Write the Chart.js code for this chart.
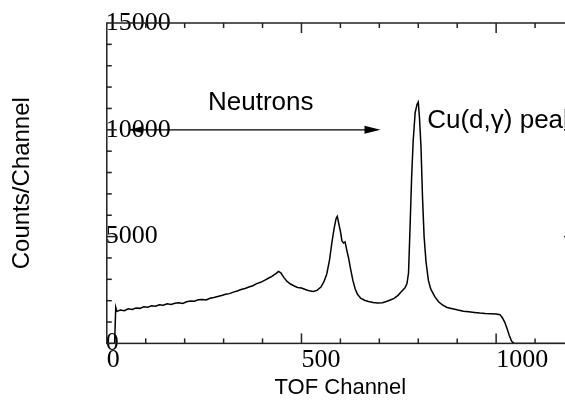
<!DOCTYPE html>
<html>
<head>
<meta charset="utf-8">
<script src="https://cdn.jsdelivr.net/npm/chart.js@4.4.1/dist/chart.umd.min.js"></script>
<style>
html, body { margin: 0; padding: 0; background: #fff; overflow: hidden; }
#wrap { width: 565px; height: 401px; overflow: hidden; }
</style>
</head>
<body>
<div id="wrap"><canvas id="tof" width="575" height="401"></canvas></div>
<script>
// TOF spectrum
var channels = [0, 20, 23, 26, 35, 45, 55, 65, 75, 85, 95, 105, 115, 125, 135, 145, 155, 165, 175, 185,
	195, 205, 215, 225, 235, 245, 255, 265, 275, 285, 295, 305, 315, 325, 335, 345, 355, 365, 375, 385,
	395, 405, 415, 425, 435, 441, 447, 455, 463, 472, 480, 490, 500, 510, 520, 530, 540, 550, 558, 565,
	572, 578, 584, 589, 592, 596, 600, 604, 608, 612, 616, 621, 626, 632, 638, 644, 652, 662, 672, 684,
	696, 708, 718, 728, 738, 748, 758, 766, 771, 775, 779, 783, 787, 792, 797, 800, 803, 807, 811, 815,
	820, 826, 832, 842, 852, 862, 874, 888, 902, 916, 930, 944, 958, 972, 986, 1000, 1010, 1016, 1022, 1028,
	1034, 1040, 1046, 1100, 1200];
var counts = [0, 0, 1690, 1500, 1560, 1530, 1620, 1590, 1660, 1640, 1710, 1690, 1760, 1740, 1810, 1790, 1850, 1820, 1880, 1900,
	1870, 1950, 1990, 1970, 2040, 2060, 2030, 2110, 2150, 2200, 2240, 2300, 2330, 2400, 2450, 2520, 2570, 2640, 2700, 2800,
	2860, 2950, 3050, 3150, 3280, 3370, 3300, 3080, 2900, 2780, 2700, 2620, 2590, 2520, 2460, 2430, 2480, 2640, 2900, 3250,
	3900, 4700, 5400, 5850, 5950, 5600, 5250, 4800, 4700, 4750, 4400, 4000, 3500, 2950, 2550, 2300, 2120, 2020, 1960, 1920,
	1890, 1900, 1960, 2030, 2110, 2250, 2450, 2600, 2800, 3300, 5500, 7800, 9500, 10800, 11200, 11300, 10600, 9200, 6800, 5000,
	3800, 2950, 2550, 2200, 1950, 1800, 1680, 1620, 1560, 1510, 1480, 1450, 1420, 1400, 1390, 1380, 1340, 1200, 1000, 700,
	360, 100, 0, 0, 0];
var xTickValues = [0, 500, 1000];
var yTickValues = [0, 5000, 10000, 15000];
var xLabel = 'TOF Channel';
var yLabel = 'Counts/Channel';

var points = channels.map(function (c, i) { return {x: c, y: counts[i]}; });

function seg(ctx, x1, y1, x2, y2) {
	ctx.beginPath();
	ctx.moveTo(x1, y1);
	ctx.lineTo(x2, y2);
	ctx.stroke();
}

// box round the plot with inward ticks, like the original
var frameTicks = {
	id: 'frameTicks',
	afterDraw: function (chart) {
		var ctx = chart.ctx, a = chart.chartArea;
		var xs = chart.scales.x, ys = chart.scales.y;
		ctx.save();
		ctx.strokeStyle = '#222';
		ctx.lineWidth = 1.5;
		ctx.strokeRect(a.left, a.top, a.right - a.left, a.bottom - a.top);
		for (var v = 100; v < xs.max; v += 100) {
			var px = xs.getPixelForValue(v);
			var len = v % 500 === 0 ? 10 : 5;
			seg(ctx, px, a.bottom, px, a.bottom - len);
			seg(ctx, px, a.top, px, a.top + len);
		}
		for (var w = 1000; w < ys.max; w += 1000) {
			var py = ys.getPixelForValue(w);
			var l2 = w % 5000 === 0 ? 10 : 5;
			seg(ctx, a.left, py, a.left + l2, py);
			seg(ctx, a.right, py, a.right - l2, py);
		}
		ctx.restore();
	}
};

// "Neutrons" arrow and the peak label
var notes = {
	id: 'notes',
	afterDatasetsDraw: function (chart) {
		var ctx = chart.ctx;
		var xs = chart.scales.x, ys = chart.scales.y;
		ctx.save();
		ctx.fillStyle = '#000';
		ctx.strokeStyle = '#000';
		ctx.font = '26px "Liberation Sans", Arial, sans-serif';
		ctx.textBaseline = 'middle';
		ctx.textAlign = 'left';
		ctx.fillText('Neutrons', xs.getPixelForValue(260), ys.getPixelForValue(11240));
		ctx.fillText('Cu(d,\u03b3) peak', xs.getPixelForValue(823), ys.getPixelForValue(10400));

		var ay = ys.getPixelForValue(10000);
		var x1 = xs.getPixelForValue(57), x2 = xs.getPixelForValue(703);
		ctx.lineWidth = 1.2;
		seg(ctx, x1, ay, x2 - 10, ay);
		ctx.beginPath();
		ctx.moveTo(x2, ay);
		ctx.lineTo(x2 - 16, ay - 4);
		ctx.lineTo(x2 - 16, ay + 4);
		ctx.closePath();
		ctx.fill();
		ctx.beginPath();
		ctx.moveTo(x1, ay);
		ctx.lineTo(x1 + 14, ay - 3.5);
		ctx.lineTo(x1 + 14, ay + 3.5);
		ctx.closePath();
		ctx.fill();
		ctx.restore();
	}
};

function plainNumber(v) { return String(v); }

Chart.defaults.color = '#000';

new Chart(document.getElementById('tof'), {
	type: 'line',
	data: {
		datasets: [{
			data: points,
			borderColor: '#000',
			borderWidth: 1.5,
			pointRadius: 0,
			tension: 0,
			fill: false
		}]
	},
	options: {
		responsive: false,
		animation: false,
		devicePixelRatio: 1,
		layout: {padding: {top: 23, right: 1, left: 0, bottom: 0}},
		plugins: {legend: {display: false}, tooltip: {enabled: false}},
		scales: {
			x: {
				type: 'linear',
				min: 0,
				max: 1200,
				afterBuildTicks: function (scale) {
					scale.ticks = xTickValues.map(function (v) { return {value: v}; });
				},
				grid: {display: false, drawTicks: false},
				border: {display: false},
				ticks: {
					align: 'start',
					padding: 1,
					maxRotation: 0,
					autoSkip: false,
					callback: plainNumber,
					font: {family: '"Liberation Serif", "Times New Roman", serif', size: 26}
				},
				title: {
					display: true,
					text: xLabel,
					padding: {top: -2, bottom: 0},
					font: {family: '"Liberation Sans", Arial, sans-serif', size: 22}
				}
			},
			y: {
				min: 0,
				max: 15000,
				afterBuildTicks: function (scale) {
					scale.ticks = yTickValues.map(function (v) { return {value: v}; });
				},
				grid: {display: false, drawTicks: false},
				border: {display: false},
				ticks: {
					mirror: true,
					padding: -1,
					autoSkip: false,
					callback: plainNumber,
					font: {family: '"Liberation Serif", "Times New Roman", serif', size: 26}
				},
				title: {
					display: true,
					text: yLabel,
					padding: {top: 8, bottom: 72},
					font: {family: '"Liberation Sans", Arial, sans-serif', size: 24}
				}
			}
		}
	},
	plugins: [frameTicks, notes]
});
</script>
</body>
</html>
